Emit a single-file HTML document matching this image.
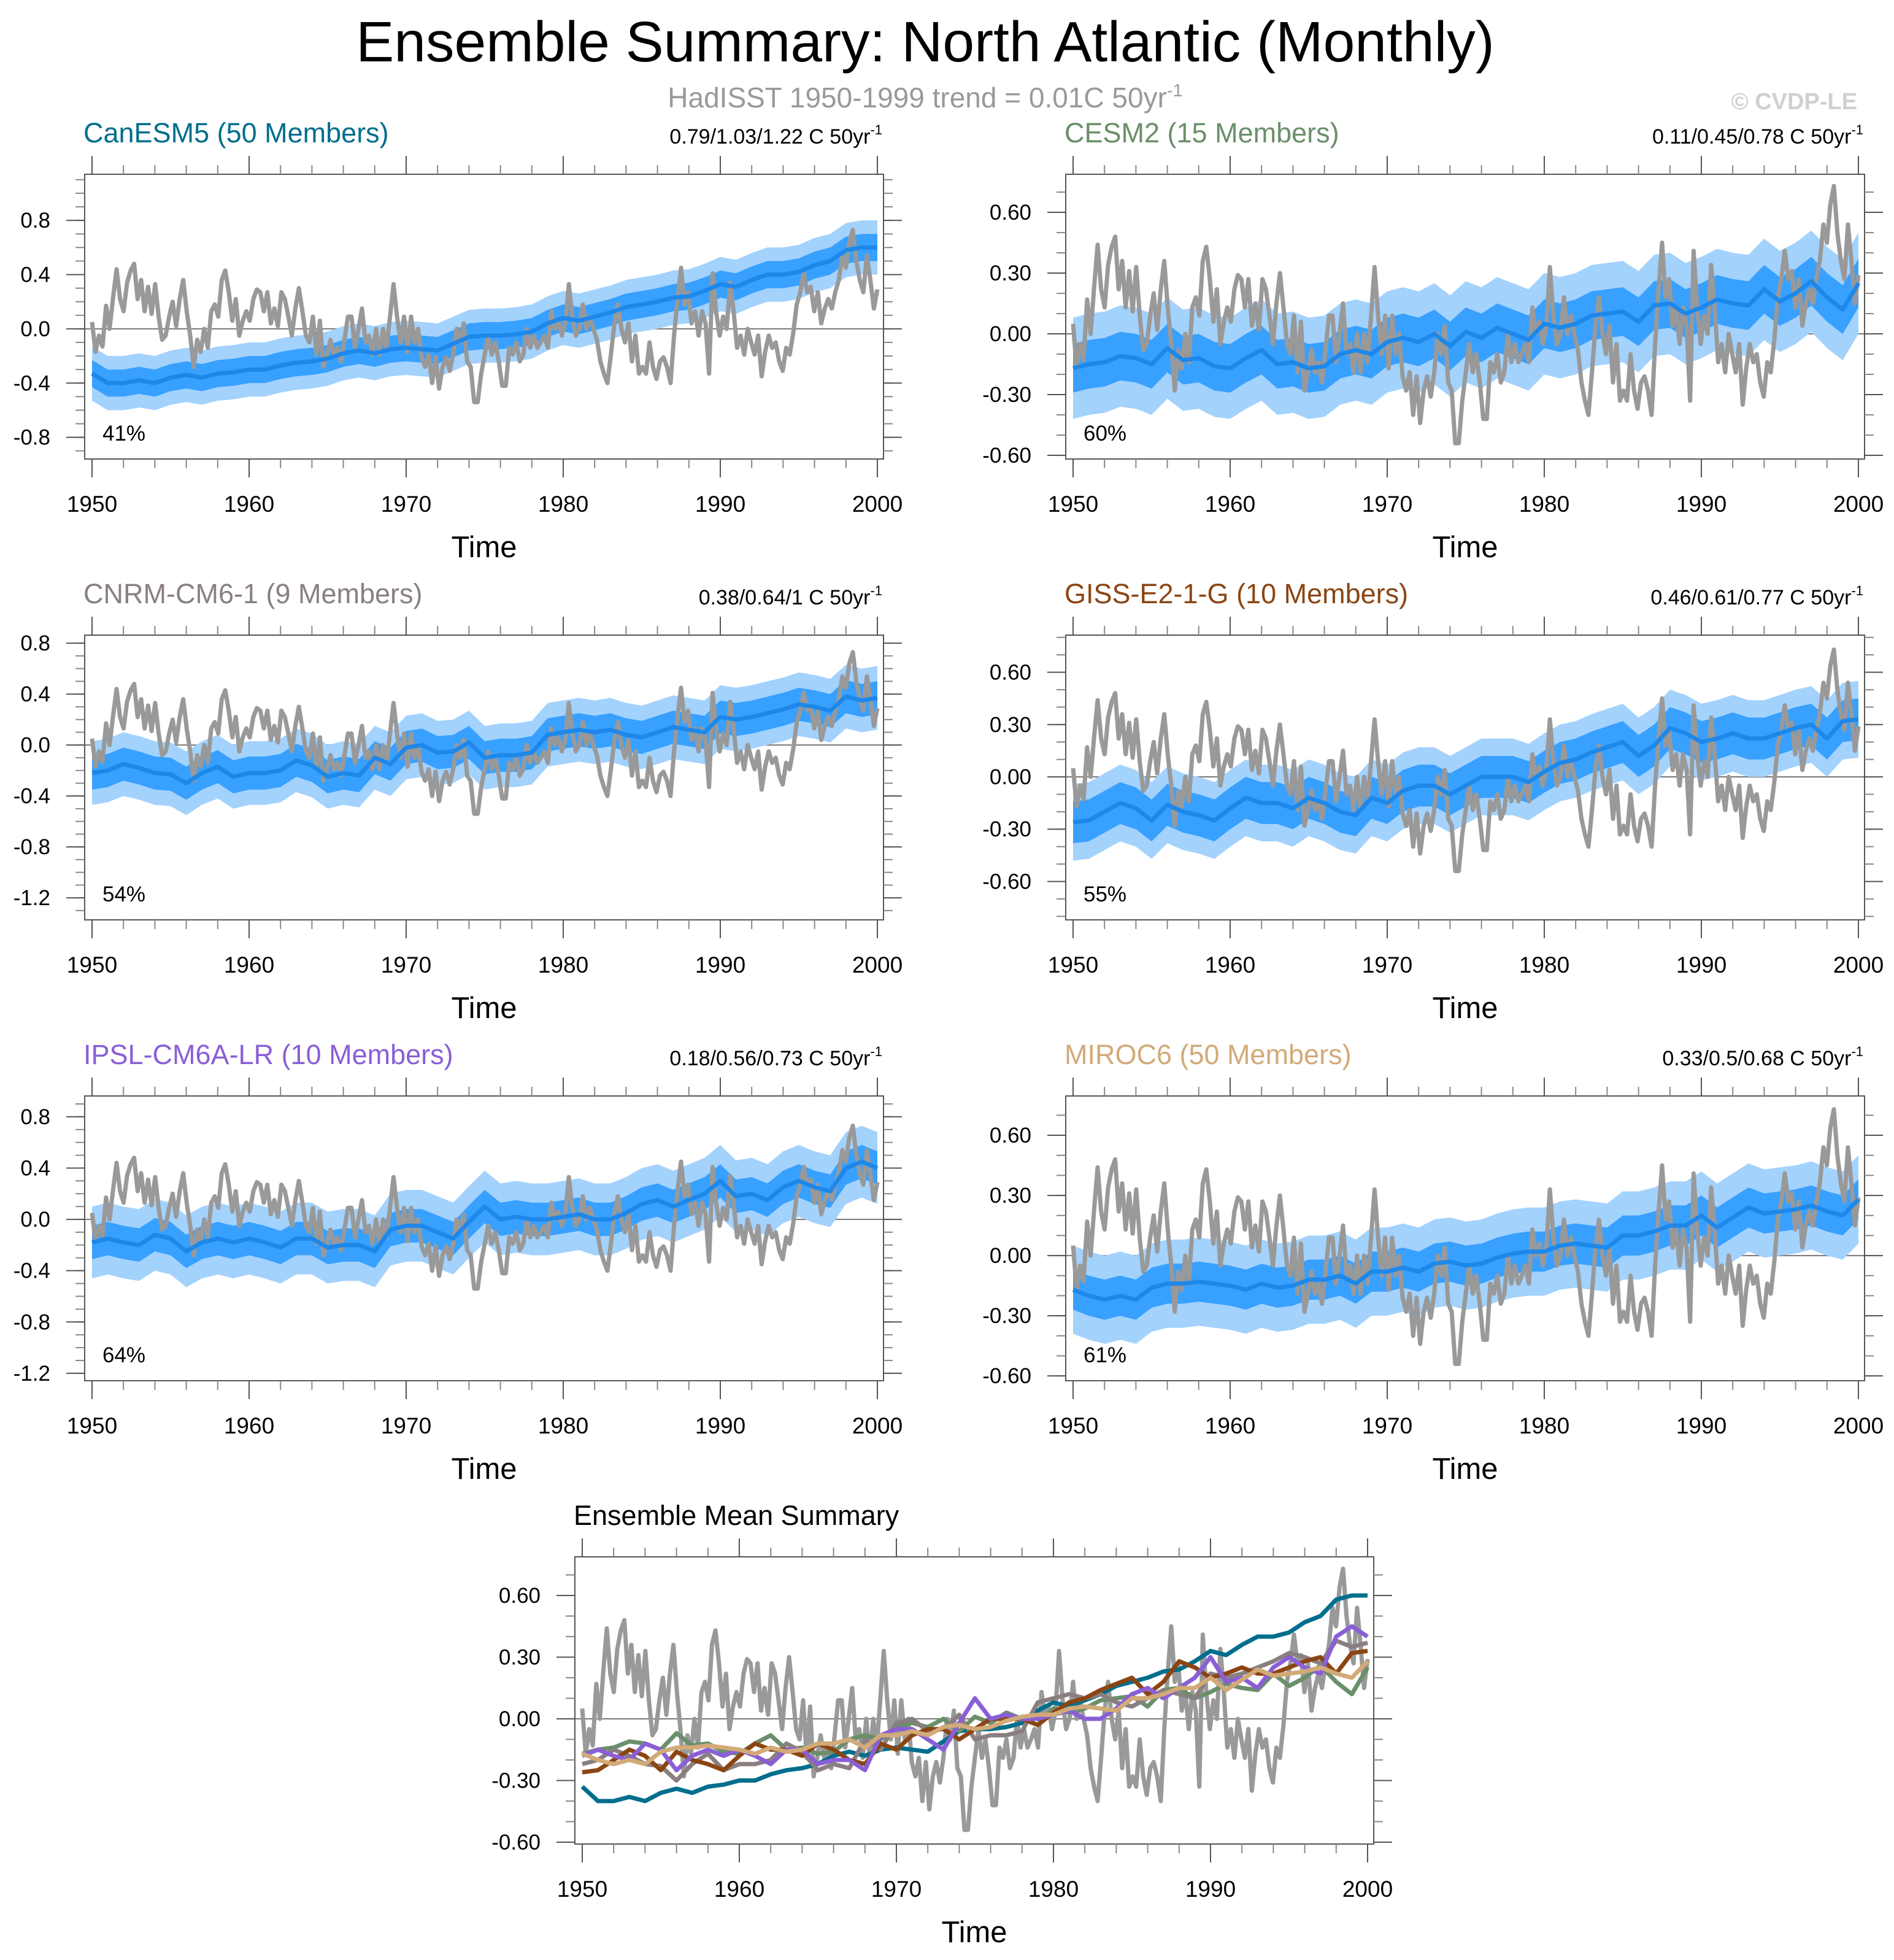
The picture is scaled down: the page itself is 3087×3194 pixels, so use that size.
<!DOCTYPE html>
<html><head><meta charset="utf-8"><style>
html,body{margin:0;padding:0;background:#fff;}
svg{display:block;font-family:"Liberation Sans",Arial,sans-serif;}
</style></head><body>
<svg id="chart" width="3087" height="3194" viewBox="0 0 3087 3194" xmlns="http://www.w3.org/2000/svg">
<rect width="3087" height="3194" fill="#fff"/>
<text x="1508" y="100" font-size="93" text-anchor="middle" fill="#000">Ensemble Summary: North Atlantic (Monthly)</text>
<text x="1508" y="175" font-size="46" text-anchor="middle" fill="#999">HadISST 1950-1999 trend = 0.01C 50yr<tspan font-size="29" dy="-18">-1</tspan></text>
<text x="3027" y="178" font-size="38" font-weight="bold" text-anchor="end" fill="#d0d0d0">© CVDP-LE</text>
</svg>
<script>
const years = [];
for (let yr = 1950; yr <= 2000; yr++) years.push(yr);

const obsValues = [0.05,-0.17,-0.05,-0.13,0.17,0,0.23,0.44,0.22,0.13,0.34,0.43,0.48,0.22,0.36,0.13,0.31,0.11,0.33,0.09,-0.08,-0.05,0.09,0.2,0.02,0.22,0.36,0.13,-0.05,-0.28,-0.08,-0.17,0,-0.14,0.13,0.18,0.09,0.36,0.43,0.27,0.06,0.22,-0.05,0.06,0.13,0.06,0.22,0.29,0.27,0.13,0.27,0.04,0.15,0.02,0.27,0.22,0.09,-0.05,0.15,0.3,0.13,-0.05,-0.1,0.09,-0.19,0.06,-0.28,-0.19,-0.08,-0.19,-0.14,-0.24,-0.08,0.09,0.09,-0.14,0,0.15,-0.1,-0.05,-0.19,0,-0.19,0,-0.14,0.09,0.33,0.09,-0.1,0.09,-0.17,0.09,-0.1,0,-0.21,-0.28,-0.19,-0.4,-0.21,-0.44,-0.28,-0.21,-0.31,-0.19,0,-0.1,0.04,-0.24,-0.28,-0.54,-0.54,-0.33,-0.19,-0.05,-0.19,-0.1,-0.24,-0.42,-0.42,-0.14,-0.19,-0.1,-0.24,-0.19,0,-0.14,-0.05,-0.14,-0.1,-0.05,-0.14,0.13,0,0.06,-0.05,0.04,0.33,0.09,-0.05,0,0.18,0,0.09,0,-0.08,-0.24,-0.33,-0.4,-0.19,0.04,0.18,0,-0.1,0.04,-0.24,-0.05,-0.33,-0.28,-0.33,-0.1,-0.28,-0.37,-0.24,-0.21,-0.28,-0.4,-0.05,0.22,0.45,0.18,0.27,0.04,0.13,-0.05,0.13,0.04,-0.33,0.41,0.13,-0.05,0.09,0,0.34,0.13,-0.14,-0.05,-0.19,0,-0.1,-0.19,-0.05,-0.35,-0.17,-0.05,-0.14,-0.1,-0.24,-0.31,-0.14,-0.19,-0.03,0.18,0.27,0.41,0.27,0.31,0.13,0.27,0.04,0.15,0.22,0.15,0.27,0.36,0.54,0.45,0.64,0.73,0.5,0.36,0.27,0.54,0.36,0.15,0.29];

const canesmMean = [-0.33,-0.40,-0.40,-0.38,-0.40,-0.36,-0.34,-0.36,-0.33,-0.32,-0.30,-0.30,-0.27,-0.25,-0.24,-0.22,-0.18,-0.16,-0.18,-0.15,-0.14,-0.15,-0.16,-0.11,-0.06,-0.05,-0.05,-0.04,-0.02,0.04,0.08,0.06,0.09,0.12,0.16,0.18,0.20,0.23,0.24,0.28,0.33,0.31,0.36,0.40,0.40,0.42,0.47,0.50,0.58,0.60,0.60];
const cesmMean = [-0.17,-0.15,-0.14,-0.11,-0.12,-0.15,-0.07,-0.13,-0.12,-0.16,-0.17,-0.12,-0.08,-0.15,-0.14,-0.17,-0.16,-0.10,-0.08,-0.10,-0.04,-0.02,-0.04,0.00,-0.06,0.01,-0.02,0.03,0.00,-0.03,0.05,0.03,0.05,0.09,0.10,0.11,0.06,0.14,0.15,0.10,0.13,0.17,0.15,0.14,0.22,0.16,0.20,0.26,0.18,0.12,0.25];
const cnrmMean = [-0.22,-0.20,-0.15,-0.18,-0.22,-0.23,-0.30,-0.22,-0.17,-0.25,-0.22,-0.22,-0.20,-0.12,-0.16,-0.25,-0.22,-0.24,-0.10,-0.15,-0.02,0.00,-0.06,-0.05,0.02,-0.10,-0.08,-0.08,-0.06,0.08,0.10,0.12,0.10,0.12,0.08,0.06,0.10,0.14,0.12,0.10,0.22,0.20,0.22,0.25,0.28,0.32,0.30,0.27,0.38,0.35,0.37];
const gissMean = [-0.26,-0.25,-0.20,-0.15,-0.18,-0.25,-0.16,-0.20,-0.22,-0.25,-0.18,-0.12,-0.15,-0.15,-0.18,-0.12,-0.15,-0.20,-0.22,-0.12,-0.15,-0.08,-0.05,-0.05,-0.10,-0.05,0.00,0.00,0.00,-0.03,0.03,0.08,0.10,0.14,0.17,0.20,0.12,0.18,0.28,0.25,0.20,0.22,0.25,0.22,0.22,0.25,0.28,0.30,0.22,0.32,0.33];
const ipslMean = [-0.18,-0.15,-0.18,-0.20,-0.12,-0.15,-0.25,-0.18,-0.15,-0.18,-0.15,-0.18,-0.22,-0.15,-0.15,-0.22,-0.20,-0.20,-0.25,-0.08,-0.05,-0.05,-0.10,-0.15,-0.02,0.10,0.00,0.02,0.00,0.00,0.02,0.04,0.00,0.00,0.05,0.12,0.15,0.10,0.15,0.20,0.30,0.18,0.20,0.15,0.25,0.30,0.25,0.22,0.40,0.45,0.40];
const mirocMean = [-0.17,-0.20,-0.22,-0.20,-0.22,-0.16,-0.14,-0.14,-0.13,-0.14,-0.15,-0.17,-0.14,-0.16,-0.15,-0.12,-0.12,-0.10,-0.14,-0.08,-0.08,-0.06,-0.08,-0.04,-0.03,-0.05,-0.04,-0.01,0.01,0.02,0.02,0.05,0.06,0.05,0.04,0.10,0.10,0.12,0.15,0.15,0.20,0.14,0.19,0.24,0.21,0.22,0.23,0.25,0.22,0.20,0.28];

const canesmSpread = [0.10, 0.20];
const cesmSpread = [0.12, 0.25];
const cnrmSpread = [0.13, 0.25];
const gissSpread = [0.12, 0.22];
const ipslSpread = [0.13, 0.28];
const mirocSpread = [0.10, 0.22];

const yTicksCoarse = [-0.8,-0.4,0,0.4,0.8];
const yTicksWide = [-1.2,-0.8,-0.4,0,0.4,0.8];
const yTicksFine = [-0.6,-0.3,0,0.3,0.6];
const xTickYears = [1950,1960,1970,1980,1990,2000];

const NS = "http://www.w3.org/2000/svg";
const svg = document.getElementById('chart');
function mk(tag, attrs, parent){
  const e = document.createElementNS(NS, tag);
  for (const k in attrs) e.setAttribute(k, attrs[k]);
  (parent||svg).appendChild(e);
  return e;
}

function drawPanel(p){
  const g = mk('g', {});
  
  
  const x1950 = p.bx + 12, x2000 = p.bx + p.bw - 10;
  const X = t => x1950 + (t - 1950) * (x2000 - x1950) / 50;
  const Y = v => p.by + (p.ymax - v) / (p.ymax - p.ymin) * p.bh;
  const clipId = 'clip-' + p.id;
  const cp = mk('clipPath', {id: clipId}, g);
  mk('rect', {x: p.bx, y: p.by, width: p.bw, height: p.bh}, cp);
  const dg = mk('g', {'clip-path': 'url(#' + clipId + ')'}, g);

  const zl = mk('line', {x1: p.bx, x2: p.bx + p.bw, y1: Y(0), y2: Y(0), stroke: '#777', 'stroke-width': 2}, dg);
  
  

  if (p.mean && p.spread) {
    [[p.spread[1], '#a3d2fd', 'outer-spread-band'], [p.spread[0], '#38a0ff', 'inner-spread-band']].forEach(([hw, col, nm]) => {
      let d = '';
      years.forEach((t, i) => { d += (i ? 'L' : 'M') + X(t).toFixed(1) + ',' + Y(p.mean[i] + hw).toFixed(1); });
      for (let i = years.length - 1; i >= 0; i--) d += 'L' + X(years[i]).toFixed(1) + ',' + Y(p.mean[i] - hw).toFixed(1);
      const band = mk('path', {d: d + 'Z', fill: col, stroke: 'none'}, dg);
      
      
    });
  }
  let od = '';
  obsValues.forEach((v, i) => { const t = 1950 + i * 50 / (obsValues.length - 1); od += (i ? 'L' : 'M') + X(t).toFixed(1) + ',' + Y(v).toFixed(1); });
  const obs = mk('path', {d: od, fill: 'none', stroke: '#999', 'stroke-width': 7, 'stroke-linejoin': 'round'}, dg);
  
  

  const lines = p.lines || [{data: p.mean, color: '#1e88ea', name: 'ensemble-mean-line'}];
  lines.forEach(L => {
    let d = '';
    L.data.forEach((v, i) => { d += (i ? 'L' : 'M') + X(years[i]).toFixed(1) + ',' + Y(v).toFixed(1); });
    const ln = mk('path', {d: d, fill: 'none', stroke: L.color, 'stroke-width': 7, 'stroke-linejoin': 'round'}, dg);
    
    
  });

  mk('rect', {x: p.bx, y: p.by, width: p.bw, height: p.bh, fill: 'none', stroke: '#555', 'stroke-width': 2}, g);

  const tickCol = '#555';
  const minorStart = Math.ceil(p.ymin * 10), minorEnd = Math.floor(p.ymax * 10);
  for (let k = minorStart; k <= minorEnd; k++) {
    const yy = Y(k / 10);
    mk('line', {x1: p.bx - 15, x2: p.bx, y1: yy, y2: yy, stroke: '#888', 'stroke-width': 2}, g);
    mk('line', {x1: p.bx + p.bw, x2: p.bx + p.bw + 15, y1: yy, y2: yy, stroke: '#888', 'stroke-width': 2}, g);
  }
  p.yticks.forEach(v => {
    const yy = Y(v);
    mk('line', {x1: p.bx - 30, x2: p.bx, y1: yy, y2: yy, stroke: tickCol, 'stroke-width': 2}, g);
    mk('line', {x1: p.bx + p.bw, x2: p.bx + p.bw + 30, y1: yy, y2: yy, stroke: tickCol, 'stroke-width': 2}, g);
    const lab = mk('text', {x: p.bx - 56, y: yy + 12, 'font-size': 35, 'text-anchor': 'end', fill: '#000'}, g);
    lab.textContent = v.toFixed(p.ydec);
    
    
  });
  for (let yr = 1950; yr <= 2000; yr += 2) {
    const xx = X(yr);
    mk('line', {x1: xx, x2: xx, y1: p.by - 15, y2: p.by, stroke: '#888', 'stroke-width': 2}, g);
    mk('line', {x1: xx, x2: xx, y1: p.by + p.bh, y2: p.by + p.bh + 15, stroke: '#888', 'stroke-width': 2}, g);
  }
  xTickYears.forEach(yr => {
    const xx = X(yr);
    mk('line', {x1: xx, x2: xx, y1: p.by - 30, y2: p.by, stroke: tickCol, 'stroke-width': 2}, g);
    mk('line', {x1: xx, x2: xx, y1: p.by + p.bh, y2: p.by + p.bh + 30, stroke: tickCol, 'stroke-width': 2}, g);
    const lab = mk('text', {x: xx, y: p.by + p.bh + 86, 'font-size': 37, 'text-anchor': 'middle', fill: '#000'}, g);
    lab.textContent = yr;
    
    
  });
  const xt = mk('text', {x: p.bx + p.bw / 2, y: p.by + p.bh + 160, 'font-size': 49, 'text-anchor': 'middle', fill: '#000'}, g);
  xt.textContent = 'Time';
  
  

  const tt = mk('text', {x: p.bx - 2, y: p.by - 52, 'font-size': 45, fill: p.titleColor}, g);
  tt.textContent = p.title;
  
  

  if (p.trend) {
    const tr = mk('text', {x: p.bx + p.bw - 2, y: p.by - 50, 'font-size': 34, 'text-anchor': 'end', fill: '#000'}, g);
    tr.textContent = p.trend + ' C 50yr';
    const sup = mk('tspan', {'font-size': 22, dy: -15}, tr);
    sup.textContent = '-1';
    
    
  }
  if (p.pct) {
    const pc = mk('text', {x: p.bx + 29, y: p.by + p.bh - 30, 'font-size': 35, fill: '#000'}, g);
    pc.textContent = p.pct;
    
    
  }
}

const L = 138, R = 1737, W = 1302, H = 464;
drawPanel({id:'canesm5', bx:L, by:284, bw:W, bh:H, ymin:-0.96, ymax:1.14, yticks:yTicksCoarse, ydec:1, title:'CanESM5 (50 Members)', titleColor:'#006e8c', trend:'0.79/1.03/1.22', pct:'41%', mean:canesmMean, spread:canesmSpread});
drawPanel({id:'cesm2', bx:R, by:284, bw:W, bh:H, ymin:-0.618, ymax:0.788, yticks:yTicksFine, ydec:2, title:'CESM2 (15 Members)', titleColor:'#6a8f6a', trend:'0.11/0.45/0.78', pct:'60%', mean:cesmMean, spread:cesmSpread});
drawPanel({id:'cnrm', bx:L, by:1035, bw:W, bh:H, ymin:-1.373, ymax:0.863, yticks:yTicksWide, ydec:1, title:'CNRM-CM6-1 (9 Members)', titleColor:'#8a7f80', trend:'0.38/0.64/1', pct:'54%', mean:cnrmMean, spread:cnrmSpread});
drawPanel({id:'giss', bx:R, by:1035, bw:W, bh:H, ymin:-0.82, ymax:0.813, yticks:yTicksFine, ydec:2, title:'GISS-E2-1-G (10 Members)', titleColor:'#8b4513', trend:'0.46/0.61/0.77', pct:'55%', mean:gissMean, spread:gissSpread});
drawPanel({id:'ipsl', bx:L, by:1786, bw:W, bh:H, ymin:-1.258, ymax:0.962, yticks:yTicksWide, ydec:1, title:'IPSL-CM6A-LR (10 Members)', titleColor:'#8a5fd6', trend:'0.18/0.56/0.73', pct:'64%', mean:ipslMean, spread:ipslSpread});
drawPanel({id:'miroc6', bx:R, by:1786, bw:W, bh:H, ymin:-0.624, ymax:0.796, yticks:yTicksFine, ydec:2, title:'MIROC6 (50 Members)', titleColor:'#d2aa78', trend:'0.33/0.5/0.68', pct:'61%', mean:mirocMean, spread:mirocSpread});
drawPanel({id:'ensemble-mean-summary', bx:937, by:2537, bw:W, bh:468, ymin:-0.609, ymax:0.788, yticks:yTicksFine, ydec:2, title:'Ensemble Mean Summary', titleColor:'#000',
  lines:[
    {data:canesmMean, color:'#006e8c', name:'canesm5-mean-line'},
    {data:cesmMean, color:'#6a8f6a', name:'cesm2-mean-line'},
    {data:cnrmMean, color:'#8a7f80', name:'cnrm-mean-line'},
    {data:gissMean, color:'#8b4513', name:'giss-mean-line'},
    {data:ipslMean, color:'#8a5fd6', name:'ipsl-mean-line'},
    {data:mirocMean, color:'#d2aa78', name:'miroc6-mean-line'}
  ]});
</script>
</body></html>
